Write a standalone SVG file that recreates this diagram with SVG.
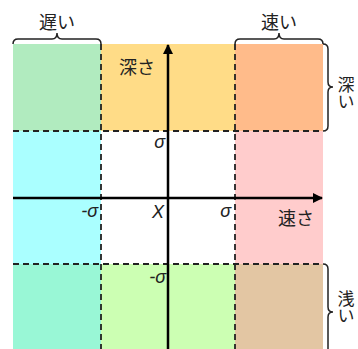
<svg xmlns="http://www.w3.org/2000/svg" width="358" height="349" viewBox="0 0 358 349">
<style>
.t{font-family:"Noto Sans CJK JP","Noto Sans",sans-serif;font-size:18px;fill:#222}
.v{font-family:"Noto Sans CJK JP","Noto Sans",sans-serif;font-size:17px;fill:#222;writing-mode:vertical-rl}
.s{font-family:"Liberation Sans","DejaVu Sans",sans-serif;font-size:18px;font-style:italic;fill:#222}
.d{stroke:#222;stroke-width:1.8;stroke-dasharray:6,4;fill:none}
.b{stroke:#222;stroke-width:1.5;fill:none}
.ax{stroke:#000;stroke-width:2.5;fill:none}
</style>
<defs>
<marker id="ah" markerWidth="10" markerHeight="10" refX="9" refY="5" orient="auto" markerUnits="userSpaceOnUse"><path d="M0,0 L10,5 L0,10 z" fill="#000"/></marker>
</defs>
<g id="cells">
<rect x="13" y="44" width="88" height="87" fill="#b1ebbf"/>
<rect x="101" y="44" width="134" height="87" fill="#ffdc87"/>
<rect x="235" y="44" width="88" height="87" fill="#ffbb8a"/>
<rect x="13" y="131" width="88" height="133" fill="#aaffff"/>
<rect x="101" y="131" width="134" height="133" fill="#ffffff"/>
<rect x="235" y="131" width="88" height="133" fill="#ffcccc"/>
<rect x="13" y="264" width="88" height="87" fill="#99f7d6"/>
<rect x="101" y="264" width="134" height="87" fill="#ccffb3"/>
<rect x="235" y="264" width="88" height="87" fill="#e3c6a3"/>
</g>
<g id="connectors">
<line class="d" x1="101" y1="44" x2="101" y2="349"/>
<line class="d" x1="235" y1="44" x2="235" y2="349"/>
<line class="d" x1="13" y1="131" x2="323" y2="131"/>
<line class="d" x1="13" y1="264" x2="323" y2="264"/>
<line class="ax" x1="13" y1="198" x2="322" y2="198" marker-end="url(#ah)"/>
<line class="ax" x1="168" y1="349" x2="168" y2="45" marker-end="url(#ah)"/>
</g>
<g id="brace-slow">
<path class="b" d="M13,44 q0,-5 5,-5 H52 q5,0 5,-6 q0,6 5,6 H96 q5,0 5,5"/>
<text class="t" x="57" y="29" text-anchor="middle">遅い</text>
</g>
<g id="brace-fast">
<path class="b" d="M235,44 q0,-5 5,-5 H274 q5,0 5,-6 q0,6 5,6 H318 q5,0 5,5"/>
<text class="t" x="279" y="29" text-anchor="middle">速い</text>
</g>
<g id="brace-deep">
<path class="b" d="M323,44 q5,0 5,5 V82 q0,5 5,5 q-5,0 -5,5 V126 q0,5 -5,5"/>
<text class="v" x="346" y="76">深い</text>
</g>
<g id="brace-shallow">
<path class="b" d="M323,264 q5,0 5,5 V307 q0,5 5,5 q-5,0 -5,5 V349"/>
<text class="v" x="346" y="290">浅い</text>
</g>
<g id="labels">
<text class="t" x="137" y="74" text-anchor="middle">深さ</text>
<text class="t" x="296" y="225" text-anchor="middle">速さ</text>
<text class="s" x="165" y="148" text-anchor="end">σ</text>
<text class="s" x="98" y="217" text-anchor="end">-σ</text>
<text class="s" x="164" y="218" text-anchor="end">X</text>
<text class="s" x="231" y="217" text-anchor="end">σ</text>
<text class="s" x="166" y="283" text-anchor="end">-σ</text>
</g>
</svg>
